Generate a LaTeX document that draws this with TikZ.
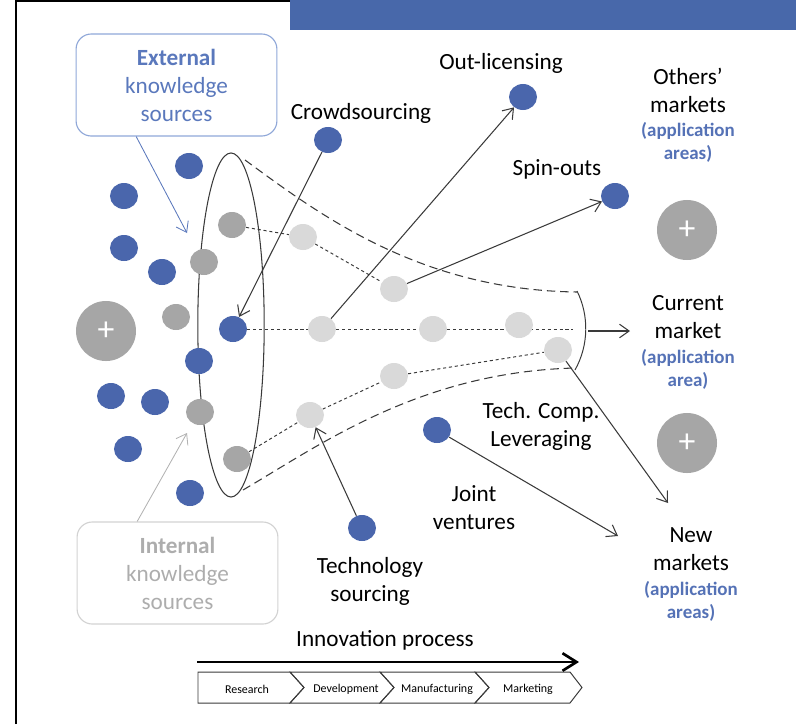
\documentclass[tikz,border=0pt]{standalone}
\usepackage{fontspec}
\setmainfont{Carlito}
\usetikzlibrary{arrows.meta,shapes.geometric,backgrounds}
\definecolor{barblue}{HTML}{4868AA}
\definecolor{dotblue}{HTML}{4A66AC}
\definecolor{appblue}{HTML}{5572B6}
\definecolor{extblue}{HTML}{5A78BC}
\definecolor{extframe}{HTML}{8FA7D8}
\definecolor{dotgrey}{HTML}{A6A6A6}
\definecolor{dotlight}{HTML}{D9D9D9}
\definecolor{linegrey}{HTML}{3A3A3A}
\definecolor{intframe}{HTML}{D2D2D2}
\definecolor{inttext}{HTML}{ADADAD}
\begin{document}
\begin{tikzpicture}[x=0.025cm,y=-0.025cm,
                bluedot/.style={ellipse,fill=dotblue,minimum width=0.7cm,minimum height=0.65cm,inner sep=0pt},
                greydot/.style={bluedot,fill=dotgrey},
                lightdot/.style={bluedot,fill=dotlight},
                plusdot/.style={circle,fill=dotgrey,minimum size=1.5cm,inner sep=0pt,text=white,font=\fontsize{24}{24}\selectfont},
                lbl/.style={align=center,font=\fontsize{16.5}{19.9}\selectfont},
                applbl/.style={align=center,text=appblue,font=\fontsize{13.5}{16.5}\selectfont\bfseries},
                srcbox/.style={rounded corners=0.38cm,minimum width=5.02cm,minimum height=2.55cm,line width=0.8pt,align=center,font=\fontsize{16.5}{19.9}\selectfont},
                arr/.style={draw=linegrey,line width=0.75pt,-{Straight Barb[length=2.4mm,width=3.4mm]}},
                funnel/.style={draw=linegrey,line width=0.75pt,dash pattern=on 6pt off 3.5pt},
                trail/.style={draw=linegrey,line width=0.7pt,dash pattern=on 2.2pt off 2pt},
                stage/.style={draw=linegrey,line width=0.7pt},
                stagetxt/.style={font=\fontsize{8.5}{10}\selectfont}]
                \useasboundingbox (0,0) rectangle (796,724);
                \fill[barblue] (290,0) rectangle (796,30);
                \draw[line width=1.4pt] (16,724) -- (16,1) -- (290,1);
                \node[srcbox,draw=extframe,text=extblue] (extbox) at (176.5,85) {\textbf{External}\\knowledge\\sources};
                \node[srcbox,draw=intframe,text=inttext] (intbox) at (177.5,573) {\textbf{Internal}\\knowledge\\sources};
                \coordinate (exttip) at (187,233);
                \coordinate (inttip) at (187,433);
                \draw[draw=extblue,line width=0.6pt,-{Straight Barb[length=2.4mm,width=3.4mm]}] (extbox.232) -- (exttip);
                \draw[draw=intframe!85!black,line width=0.6pt,-{Straight Barb[length=2.4mm,width=3.4mm]}] (intbox.128) -- (inttip);
                \draw[linegrey,line width=0.75pt] (231,325) ellipse [x radius=0.83cm,y radius=4.3cm];
                \node[plusdot] (p1) at (106,331) {+};
                \node[plusdot] (p2) at (687,230) {+};
                \node[plusdot] (p3) at (687,443) {+};
                \node[bluedot] (b1) at (189,166) {};
                \node[bluedot] (b2) at (124,196) {};
                \node[bluedot] (b3) at (124,248) {};
                \node[bluedot] (b4) at (162,272) {};
                \node[bluedot] (b5) at (111,396) {};
                \node[bluedot] (b6) at (155,402) {};
                \node[bluedot] (b7) at (128,449) {};
                \node[bluedot] (b8) at (190,493) {};
                \node[bluedot] (b9) at (199,361) {};
                \node[bluedot] (b10) at (233,329) {};
                \node[greydot] (g1) at (232,225) {};
                \node[greydot] (g2) at (204,262) {};
                \node[greydot] (g3) at (176,317) {};
                \node[greydot] (g4) at (200,412) {};
                \node[greydot] (g5) at (237,459) {};
                \node[lightdot] (l1) at (303,237) {};
                \node[lightdot] (l2) at (394,289) {};
                \node[lightdot] (l3) at (322,329) {};
                \node[lightdot] (l4) at (433,329) {};
                \node[lightdot] (l5) at (519,325) {};
                \node[lightdot] (l6) at (558,350) {};
                \node[lightdot] (l7) at (394,376) {};
                \node[lightdot] (l8) at (310,415) {};
                \node[bluedot] (crowd) at (328,140) {};
                \node[bluedot] (outlic) at (523,97) {};
                \node[bluedot] (spin) at (615,196) {};
                \node[bluedot] (techcomp) at (437,430) {};
                \node[bluedot] (techsrc) at (362,528) {};
                \coordinate (midend) at (573,329);
                \begin{pgfonlayer}{background}
                \draw[funnel] (245,160) .. controls (320,215) and (420,290) .. (577,292);
                \draw[funnel] (243,490) .. controls (320,445) and (420,372) .. (575,368);
                \draw[stage] (577,291) .. controls (589,315) and (589,345) .. (575,370);
                \draw[trail] (g1) -- (l1) -- (l2);
                \draw[trail] (b10) -- (l3) -- (l4) -- (midend);
                \draw[trail] (g5) -- (l8) -- (l7) -- (l6);
                \end{pgfonlayer}
                \coordinate (curstart) at (588,331);
                \coordinate (curtip) at (630,331);
                \coordinate (newtip) at (668,503);
                \coordinate (jvtip) at (618,536);
                \draw[arr] (crowd) -- (b10);
                \draw[arr] (l3) -- (outlic);
                \draw[arr] (l2) -- (spin);
                \draw[arr] (techsrc) -- (l8);
                \draw[arr] (l6) -- (newtip);
                \draw[arr] (techcomp) -- (jvtip);
                \draw[arr] (curstart) -- (curtip);
                \node[lbl] (crowdtxt) at (361,113) {Crowdsourcing};
                \node[lbl] (outlictxt) at (501,63) {Out-licensing};
                \node[lbl] (spintxt) at (557,169) {Spin-outs};
                \node[lbl] (otherstxt) at (688,90) {Others’\\markets};
                \node[applbl] (othersapp) at (688,142) {(application\\areas)};
                \node[lbl] (curtxt) at (688,317) {Current\\market};
                \node[applbl] (curapp) at (688,369) {(application\\area)};
                \node[lbl] (techcomptxt) at (541,426) {Tech. Comp.\\Leveraging};
                \node[lbl] (jvtxt) at (474,508) {Joint\\ventures};
                \node[lbl] (newtxt) at (691,549) {New\\markets};
                \node[applbl] (newapp) at (691,601) {(application\\areas)};
                \node[lbl] (techsrctxt) at (370,581) {Technology\\sourcing};
                \node[lbl] (iptxt) at (385,640) {Innovation process};
                \coordinate (ipstart) at (197,662);
                \coordinate (ipend) at (579,662);
                \draw[line width=1.9pt,-{Straight Barb[length=3.5mm,width=4.4mm]}] (ipstart) -- (ipend);
                \draw[stage] (198,672) -- (290,672) -- (304,687.5) -- (290,703) -- (198,703) -- cycle;
                \draw[stage] (290,672) -- (380,672) -- (394,687.5) -- (380,703) -- (290,703) -- (304,687.5) -- cycle;
                \draw[stage] (380,672) -- (475,672) -- (489,687.5) -- (475,703) -- (380,703) -- (394,687.5) -- cycle;
                \draw[stage] (475,672) -- (570,672) -- (582,687.5) -- (570,703) -- (475,703) -- (489,687.5) -- cycle;
                \node[stagetxt] (research) at (247,689) {Research};
                \node[stagetxt] (develop) at (346,689) {Development};
                \node[stagetxt] (manufact) at (437,689) {Manufacturing};
                \node[stagetxt] (market) at (528,689) {Marketing};
            \end{tikzpicture}
\end{document}
